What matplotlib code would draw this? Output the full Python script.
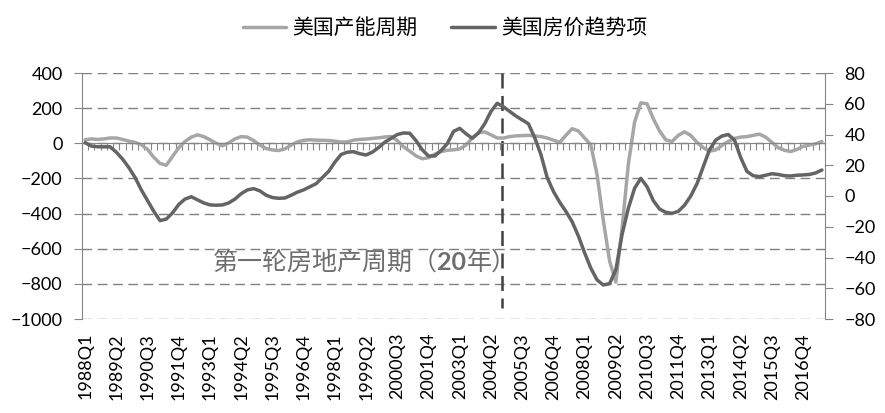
import numpy as np
import matplotlib
matplotlib.use('Agg')
from matplotlib import pyplot as plt

plt.rcParams['font.family'] = ['Lato', 'Noto Sans CJK SC', 'DejaVu Sans']

# quarters 1988Q1 .. 2017Q3
quarters = [str(1988 + k // 4) + 'Q' + str(k % 4 + 1) for k in range(119)]

# 美国产能周期 (left axis)
capacity = [20, 25, 22, 25, 30, 30, 22, 12, 5, -8,
            -35, -80, -115, -125, -75, -25, 10, 35, 48, 38,
            20, 0, -14, 2, 25, 38, 35, 15, -10, -30,
            -38, -41, -32, -10, 8, 17, 20, 18, 17, 16,
            12, 7, 8, 18, 22, 24, 28, 31, 36, 39,
            15, -20, -45, -72, -88, -82, -62, -47, -40, -37,
            -32, -10, 30, 60, 65, 48, 30, 30, 38, 42,
            44, 45, 42, 38, 30, 18, 5, 45, 83, 70,
            30, -9, -180, -440, -670, -790, -483, -120, 120, 230,
            225, 140, 70, 20, 10, 45, 65, 45, 5, -25,
            -45, -38, -12, 10, 28, 35, 38, 45, 52, 35,
            5, -25, -40, -47, -35, -18, -10, -3, 10]

# 美国房价趋势项 (right axis)
house = [34.7, 32.5, 32, 32, 32, 28.5, 24, 18.5, 12, 4,
         -3, -10, -16, -15, -11, -5.5, -2, -0.5, -2.5, -4.5,
         -5.8, -6, -5.8, -4.5, -2, 1.5, 4, 4.8, 3.3, 0.5,
         -1, -1.5, -1.3, 0.5, 2.5, 4, 6, 8, 12, 16,
         22, 27, 28.5, 28.8, 27.5, 26.7, 28.5, 31.5, 35, 37.5,
         40, 41, 40.8, 36, 30, 26, 26, 29.5, 34, 42,
         44, 40.5, 37.5, 41, 47, 55, 60.3, 58, 55, 52,
         49.5, 47, 38, 27, 12, 3, -4, -10, -16.7, -26,
         -37, -47, -54.6, -57.9, -57, -48, -25, -8, 5, 11.5,
         6, -3, -8.5, -10.6, -11.3, -10, -6, 0, 8, 19,
         30, 36.4, 39, 40, 36.4, 25, 16, 13.2, 12.6, 13.5,
         14.5, 14, 13.2, 13, 13.5, 13.7, 14, 15, 16.9]

left_ticks = [400, 200, 0, -200, -400, -600, -800, -1000]
right_ticks = [80, 60, 40, 20, 0, -20, -40, -60, -80]

axis_col = '#868686'
grid_col = '#808080'

fig = plt.figure(figsize=(8.85, 4.13), dpi=100)
ax = fig.add_axes([82/885, 1-319/413, (825-82)/885, (319-73)/413])
ax2 = ax.twinx()

x = np.arange(len(quarters))
l1, = ax.plot(x, capacity, color='#a6a6a6', lw=2.5, label='美国产能周期', solid_capstyle='round')
l2, = ax2.plot(x, house, color='#646464', lw=2.5, label='美国房价趋势项', solid_capstyle='round')

ax.set_xlim(-0.5, len(quarters) - 0.5)
ax.set_ylim(-1000, 400)
ax2.set_ylim(-80, 80)
ax.set_yticks(left_ticks)
ax2.set_yticks(right_ticks)
ax.yaxis.grid(True, color=grid_col, linestyle=(0, (7, 4)), lw=1)
ax.set_axisbelow(True)

# category axis crossing at 0
ax.spines['bottom'].set_position(('data', 0))
ax.spines['bottom'].set_color(axis_col)
ax.set_xticks(np.arange(-0.5, len(quarters), 1))
ax.tick_params(axis='x', labelbottom=False, direction='out', length=5, color=axis_col)

sec = ax.secondary_xaxis('bottom')
sec.set_xticks(x[::5], [quarters[i] for i in x[::5]], rotation=90)
sec.tick_params(length=0, pad=10, labelsize=13)
sec.spines['bottom'].set_visible(False)

ax.spines['top'].set_visible(False)
for s in ['top', 'bottom', 'left']:
    ax2.spines[s].set_visible(False)
ax.spines['left'].set_color(axis_col)
ax.spines['right'].set_visible(False)
ax2.spines['right'].set_color(axis_col)
ax.tick_params(axis='y', labelsize=13, length=6, pad=8, color=axis_col)
ax2.tick_params(axis='y', labelsize=13, length=6, pad=8, color=axis_col)

# 2004 separator
ax.plot([66.8, 66.8], [400, -935], color='#404040', lw=1.8, linestyle=(0, (6, 3)))

txt_col = '#6e6e6e'
t1 = ax.text(20.4, -677, '第一轮房地产周期（', fontsize=18, color=txt_col,
             family=['Noto Sans CJK SC'], va='center', ha='left')
t2 = ax.annotate('20', xy=(1, 0.5), xycoords=t1, fontsize=18, color=txt_col,
                 fontweight='bold', va='center', ha='left')
t3 = ax.annotate('年）', xy=(1, 0.5), xycoords=t2, fontsize=18, color=txt_col,
                 family=['Noto Sans CJK SC'], va='center', ha='left')

fig.legend(handles=[l1, l2], loc='center', bbox_to_anchor=(445/885, 1-28/413),
           ncol=2, frameon=False, handlelength=2.1,
           handletextpad=0.3, columnspacing=1.6,
           prop={'family': ['Noto Sans CJK SC'], 'size': 15})

fig.savefig('out.png', dpi=100)
